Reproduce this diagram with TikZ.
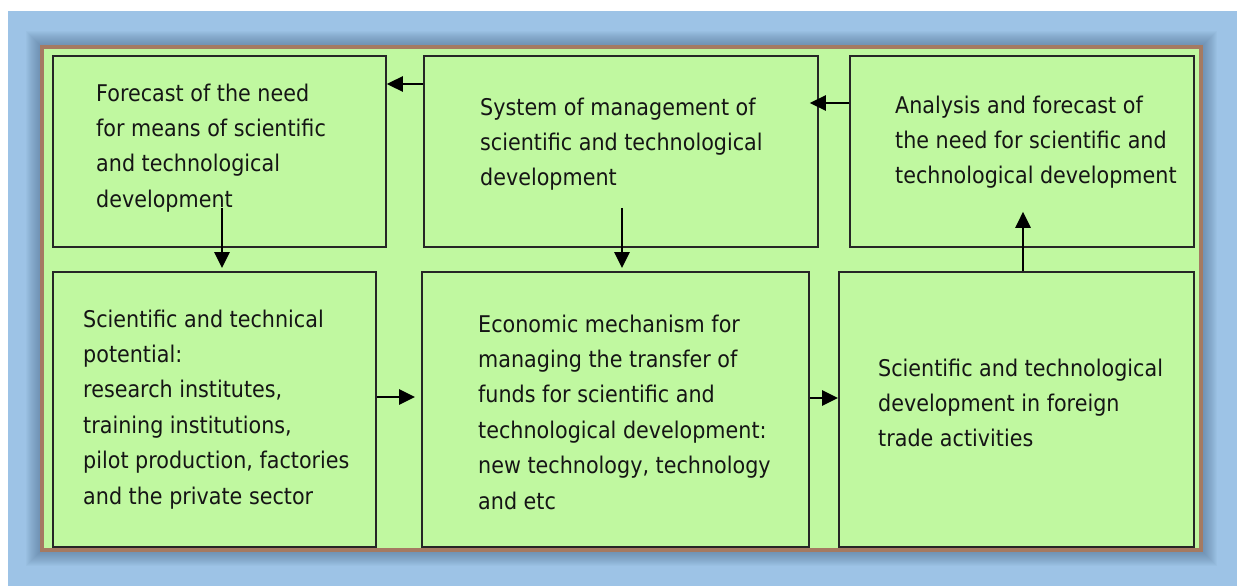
\documentclass[tikz,border=0pt]{standalone}
\usepackage{fontspec}
\setmainfont{DejaVu Sans}[FakeStretch=0.9]
\usetikzlibrary{arrows.meta,calc}
\definecolor{bgblue}{HTML}{9DC3E6}
\definecolor{shadowc}{HTML}{4A6888}
\definecolor{framec}{HTML}{A57A62}
\definecolor{greenfill}{HTML}{C0F8A0}
\definecolor{txt}{HTML}{151515}
\begin{document}
\begin{tikzpicture}[x=1pt,y=-1pt,
  box/.style={draw=black!85, line width=1.8pt, anchor=north west, inner sep=0pt},
  lbl/.style={anchor=north west, inner sep=0pt, align=left, font=\fontsize{23}{35.4}\selectfont, text=txt},
  arr/.style={line width=2.7pt, -{Triangle[length=16pt,width=15pt]}}]
\useasboundingbox (0,0) rectangle (1237,586);
\fill[white] (0,0) rectangle (1237,586);
\fill[bgblue] (8,11) rectangle (1237,586);
\foreach \i in {1,...,14} {
  \fill[shadowc, opacity=0.045] (40-\i,45-\i) rectangle (1203+\i,552+\i);
}
\draw[framec, line width=3.5pt, fill=greenfill] (42,47) rectangle (1201,550);

\node[box, minimum width=333pt, minimum height=191pt] (b1) at (52,55) {};
\node[box, minimum width=394pt, minimum height=191pt] (b2) at (423,55) {};
\node[box, minimum width=344pt, minimum height=191pt] (b3) at (849,55) {};
\node[box, minimum width=323pt, minimum height=275pt] (b4) at (52,271) {};
\node[box, minimum width=387pt, minimum height=275pt] (b5) at (421,271) {};
\node[box, minimum width=355pt, minimum height=275pt] (b6) at (838,271) {};

\node[lbl] (t1) at (96,83.5) {Forecast of the need\\for means of scientific\\and technological\\development};
\node[lbl] (t2) at (480,97.5) {System of management of\\scientific and technological\\development};
\node[lbl] (t3) at (895,95.5) {Analysis and forecast of\\the need for scientific and\\technological development};
\node[lbl] (t4) at (83,309.5) {Scientific and technical\\potential:\\research institutes,\\training institutions,\\pilot production, factories\\and the private sector};
\node[lbl] (t5) at (478,314.5) {Economic mechanism for\\managing the transfer of\\funds for scientific and\\technological development:\\new technology, technology\\and etc};
\node[lbl] (t6) at (878,358.5) {Scientific and technological\\development in foreign\\trade activities};

\draw[arr] ($(b2.north west)+(0,29)$) -- ($(b1.north east)+(0,29)$);
\draw[arr] ($(b3.north west)+(0,48)$) -- ($(b2.north east)+(-9,48)$);
\draw[arr] ($(b1.south west)+(170,-40)$) -- ($(b4.north west)+(170,-3)$);
\draw[arr] ($(b2.south west)+(199,-40)$) -- ($(b5.north west)+(201,-3)$);
\draw[arr] ($(b4.north east)+(0,126)$) -- ($(b5.north west)+(-6,126)$);
\draw[arr] ($(b5.north east)+(0,127)$) -- ($(b6.north west)+(0,127)$);
\draw[arr] ($(b6.north west)+(185,0)$) -- ($(b3.south west)+(174,-36)$);
\end{tikzpicture}
\end{document}
